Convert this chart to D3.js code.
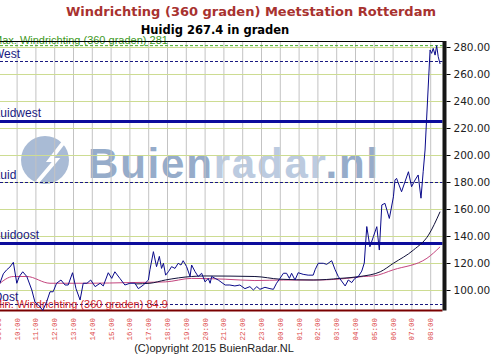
<!DOCTYPE html>
<html>
<head>
<meta charset="utf-8">
<script src="https://cdn.jsdelivr.net/npm/d3@7"></script>
<style>
  body { margin: 0; background: #fff; }
  svg { display: block; }
</style>
</head>
<body>
<div id="chart"></div>
<script>
const times = ["09:00","09:05","09:16","09:27","09:37","09:48","09:59","10:07","10:18","10:31","10:47","10:57",
  "11:08","11:22","11:34","11:45","11:55","12:06","12:20","12:33","12:43","12:57","13:08","13:21","13:31","13:43",
  "13:55","14:09","14:25","14:35","14:51","15:02","15:12","15:28","15:44","16:00","16:16","16:27","16:43","16:59",
  "17:04","17:15","17:25","17:34","17:41","17:47","17:54","18:03","18:13","18:24","18:34","18:43","18:50","19:01",
  "19:12","19:17","19:28","19:38","19:49","20:00","20:10","20:16","20:21","20:32","20:42","21:04","21:19","21:35",
  "21:51","22:07","22:23","22:34","22:45","22:55","23:11","23:27","23:38","23:48","23:59","00:10","00:20","00:29",
  "00:36","00:47","00:57","01:13","01:29","01:45","01:51","02:01","02:17","02:28","02:44","02:55","03:05","03:27",
  "03:37","03:48","03:58","04:09","04:20","04:28","04:36","04:46","04:57","05:08","05:16","05:24","05:34","05:48",
  "06:01","06:06","06:11","06:27","06:49","06:59","07:10","07:20","07:29","07:36","07:42","07:58","08:03","08:08",
  "08:14","08:19","08:24","08:30"];
const direction = [103,105,112,115,117,120.5,105,110,113.5,110,100,91,
  89,84.9,91,98.7,98.7,105,107.4,103.7,103.7,112.8,101,92.6,105,105,
  107.4,102.5,105,103,112.8,108.6,113.5,108.6,103.7,105,105,101,103.7,107.4,
  115,128.4,117.3,124.9,116,119.8,111,113.6,117.3,116,119.8,118.5,121.7,117.3,
  110,118.5,113.6,110,112.4,106,108.6,105,110,108.6,107.4,103.7,103.7,103,
  103.7,101,102.5,100,102.5,100.5,102,101,100.5,105,108.6,112.4,112.4,108.6,
  112.4,107.4,112.8,111.6,111,111,115,119.8,119.8,119,121.7,115,110,103,
  107.4,105.5,108.6,110,114,120,147,132,139.5,146.9,129.6,163,164.2,153,
  169,181.5,182.7,172.8,187.6,176.5,181.5,185.2,168,187.6,203.7,277.8,275.3,279,
  274,281,272.8,267.4];

// long running average (pink) and short running average (black)
const avgLongTimes = ["09:00","09:48","10:31","11:45","13:50","16:00","17:53","19:17","21:04","22:39",
  "00:10","01:56","03:32","04:25","04:57","06:01","07:48","08:30"];
const avgLong = [104,110,110,105,105,105.5,106,108.6,108,107,107.4,107.4,108.6,110,110.4,115,123.5,132];
const avgShortTimes = ["16:16","17:04","17:53","19:17","20:00","22:39","23:59","01:45","03:11","04:14",
  "05:19","06:01","07:05","07:53","08:30"];
const avgShort = [104.5,105,107.4,110,110.4,110,108,107.4,108.6,110,113.5,119.8,129.6,140.7,158];

// compass reference lines
const compassNames = ["West","Zuidwest","Zuid","Zuidoost","Oost"];
const compassValues = [270,225,180,135,90];
const maxValue = 281, minValue = 84.9, current = 267.4;
const yTicks = [100,120,140,160,180,200,220,240,260,280];

/** CONSTANTS */
let width = 498,
  height = 354,
  plot = { top: 41.5, bottom: 310.5, left: 0, right: 442.5 };

let parseTime = s => {
  let [h, m] = s.split(":").map(Number);
  return new Date(2015, 2, h >= 9 ? 10 : 11, h, m);
};
let start = new Date(2015, 2, 10, 9, 0),
  end = new Date(2015, 2, 11, 8, 0);

/** SCALES */
let x = d3.scaleTime().domain([start, end]).range([-1.7, 430.7]);
let y = d3.scaleLinear().domain([100, 280]).range([290, 47]);

/** MAIN CODE */
let svg = d3.select("#chart").append("svg")
  .attr("width", width)
  .attr("height", height);

// title
svg.append("text")
  .attr("x", 251).attr("y", 16)
  .attr("text-anchor", "middle")
  .attr("font-family", "DejaVu Sans, Verdana, sans-serif")
  .attr("font-weight", "bold").attr("font-size", 13)
  .attr("fill", "#a8322f")
  .text("Windrichting (360 graden) Meetstation Rotterdam");
svg.append("text")
  .attr("x", 215).attr("y", 34)
  .attr("text-anchor", "middle")
  .attr("font-family", "DejaVu Sans, Verdana, sans-serif")
  .attr("font-weight", "bold").attr("font-size", 11.5)
  .attr("fill", "#000")
  .text("Huidig " + current + " in graden");

// watermark
let mark = svg.append("g").attr("class", "watermark");
mark.append("circle").attr("cx", 45).attr("cy", 160).attr("r", 24).attr("fill", "#a9bbd5");
mark.append("path").attr("d", "M70,134 L50,160 L56,160 L34,186")
  .attr("fill", "none").attr("stroke", "#fff").attr("stroke-width", 4);
let markText = mark.append("text")
  .attr("x", 88).attr("y", 178)
  .attr("font-family", "Liberation Sans, Arial, sans-serif")
  .attr("font-weight", "bold").attr("font-size", 42)
  .attr("letter-spacing", 1.8);
markText.append("tspan").attr("fill", "#96acca").text("Buien");
markText.append("tspan").attr("fill", "#bccbe0").text("radar");
markText.append("tspan").attr("fill", "#96acca").text(".nl");

// grid
let hourTicks = d3.timeHour.range(start, d3.timeMinute.offset(end, 1));
svg.append("g")
  .selectAll("line")
  .data(hourTicks)
  .join("line")
  .attr("x1", d => x(d)).attr("x2", d => x(d))
  .attr("y1", plot.top).attr("y2", plot.bottom)
  .attr("stroke", "#c3c3c3");
svg.append("g")
  .selectAll("line")
  .data(yTicks)
  .join("line")
  .attr("x1", plot.left).attr("x2", plot.right)
  .attr("y1", d => Math.round(y(d)) + 0.5).attr("y2", d => Math.round(y(d)) + 0.5)
  .attr("stroke", "#cddc92");

// compass lines, thick for the diagonal directions
svg.append("g")
  .selectAll("line")
  .data(compassValues)
  .join("line")
  .attr("x1", plot.left).attr("x2", plot.right)
  .attr("y1", d => Math.round(y(d)) + 0.5).attr("y2", d => Math.round(y(d)) + 0.5)
  .attr("stroke", (d, i) => i % 2 ? "#0c0c9c" : "#1a1a80")
  .attr("stroke-width", (d, i) => i % 2 ? 3 : 1)
  .attr("stroke-dasharray", (d, i) => i % 2 ? null : "3,2");
svg.append("g")
  .selectAll("text")
  .data(compassNames)
  .join("text")
  .attr("x", -7)
  .attr("y", (d, i) => y(compassValues[i]) - (i % 2 ? 4 : 3))
  .attr("font-family", "Liberation Sans, Arial, sans-serif")
  .attr("font-size", 12)
  .attr("fill", "#1a1a80")
  .text(d => d);

// max / min
svg.append("line")
  .attr("x1", plot.left).attr("x2", plot.right)
  .attr("y1", y(maxValue)).attr("y2", y(maxValue))
  .attr("stroke", "#44aa22").attr("stroke-dasharray", "3,2");
svg.append("text")
  .attr("x", -7).attr("y", y(maxValue) - 2)
  .attr("font-family", "Liberation Sans, Arial, sans-serif").attr("font-size", 11)
  .attr("fill", "#3f9a26")
  .text("Max. Windrichting (360 graden) " + maxValue);
svg.append("line")
  .attr("x1", plot.left).attr("x2", plot.right)
  .attr("y1", y(minValue)).attr("y2", y(minValue))
  .attr("stroke", "#7a0000").attr("stroke-width", 2);
svg.append("text")
  .attr("x", -7).attr("y", y(minValue) - 2)
  .attr("font-family", "Liberation Sans, Arial, sans-serif").attr("font-size", 11)
  .attr("fill", "#d42a2a")
  .text("Min. Windrichting (360 graden) " + minValue);

// series
let line = d3.line().x(d => x(d[0])).y(d => y(d[1]));
let smooth = d3.line().x(d => x(d[0])).y(d => y(d[1])).curve(d3.curveMonotoneX);
svg.append("path")
  .datum(avgLongTimes.map((t, i) => [parseTime(t), avgLong[i]]))
  .attr("d", smooth).attr("fill", "none").attr("stroke", "#c4457e");
svg.append("path")
  .datum(avgShortTimes.map((t, i) => [parseTime(t), avgShort[i]]))
  .attr("d", smooth).attr("fill", "none").attr("stroke", "#10103a");
svg.append("path")
  .datum(times.map((t, i) => [parseTime(t), direction[i]]))
  .attr("d", line).attr("fill", "none").attr("stroke", "#0a0a8a");

// frame
svg.append("line")
  .attr("x1", plot.left).attr("x2", plot.right + 1)
  .attr("y1", plot.top).attr("y2", plot.top)
  .attr("stroke", "#000");
svg.append("rect")
  .attr("x", plot.right).attr("y", plot.top - 0.5)
  .attr("width", 4).attr("height", plot.bottom - plot.top + 0.5)
  .attr("fill", "#161616");

// right axis
let yAxis = d3.axisRight(y)
  .tickValues(yTicks)
  .tickFormat(d3.format(".2f"))
  .tickSize(4)
  .tickPadding(3);
let axisG = svg.append("g")
  .attr("transform", `translate(${plot.right + 4},0)`)
  .call(yAxis);
axisG.select(".domain").remove();
axisG.selectAll("line").attr("stroke", "#000");
axisG.selectAll("text")
  .attr("font-family", "DejaVu Sans, Verdana, sans-serif")
  .attr("font-size", 10.5)
  .attr("fill", "#222");

// hour labels, rotated
svg.append("g")
  .selectAll("text")
  .data(hourTicks)
  .join("text")
  .attr("transform", d => `translate(${x(d) + 2.5},318) rotate(-90)`)
  .attr("text-anchor", "end")
  .attr("font-family", "Liberation Mono, Courier New, monospace")
  .attr("font-size", 7.5)
  .attr("fill", "#dd4a4a")
  .text(d3.timeFormat("%H:%M"));

// copyright
svg.append("text")
  .attr("x", 214).attr("y", 352)
  .attr("text-anchor", "middle")
  .attr("font-family", "Liberation Sans, Arial, sans-serif")
  .attr("font-size", 11)
  .attr("fill", "#222")
  .text("(C)opyright 2015 BuienRadar.NL");
</script>
</body>
</html>
